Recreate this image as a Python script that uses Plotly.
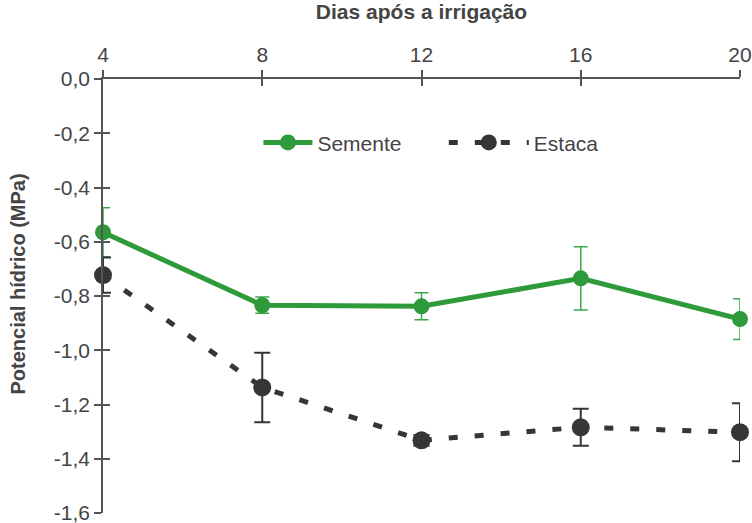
import plotly.graph_objects as go

dias = [4, 8, 12, 16, 20]

semente = [-0.565, -0.834, -0.838, -0.735, -0.885]
semente_err = [0.09, 0.03, 0.05, 0.117, 0.075]

estaca = [-0.723, -1.137, -1.332, -1.284, -1.302]
estaca_err = [0.065, 0.128, 0.02, 0.068, 0.107]

y_ticks = [0, -0.2, -0.4, -0.6, -0.8, -1.0, -1.2, -1.4, -1.6]
# hyphen-minus and decimal comma as in the original figure
y_labels = [("-" if v < 0 else "") + f"{abs(v):.1f}".replace(".", ",") for v in y_ticks]

AXIS = "#555555"
TEXT = "#444444"

fig = go.Figure()

fig.add_trace(go.Scatter(
    x=dias, y=semente, name="Semente", mode="lines+markers",
    line=dict(color="#2e9a3a", width=5),
    marker=dict(color="#2e9a3a", size=16),
    error_y=dict(type="data", array=semente_err, color="#3aa84a", thickness=1.5, width=7),
    cliponaxis=False, legend="legend",
))

fig.add_trace(go.Scatter(
    x=dias, y=estaca, name="Estaca", mode="lines+markers",
    line=dict(color="#363636", width=5, dash="9px,17px"),
    marker=dict(color="#363636", size=18),
    error_y=dict(type="data", array=estaca_err, color="#363636", thickness=2, width=8),
    cliponaxis=False, legend="legend2",
))

# empty trace so the overlaid axes (inner half of the crossing ticks) get drawn
fig.add_trace(go.Scatter(x=[None], y=[None], xaxis="x2", yaxis="y2",
                         showlegend=False, hoverinfo="skip"))

fig.update_layout(
    width=752, height=523,
    margin=dict(l=103, r=12, t=79, b=10),
    plot_bgcolor="white",
    paper_bgcolor="white",
    font=dict(family="Liberation Sans, Arial, sans-serif", color=TEXT, size=21),
    legend=dict(
        orientation="h", x=0.244, y=0.853, xanchor="left", yanchor="middle",
        font=dict(size=21, color=TEXT), bgcolor="rgba(0,0,0,0)", itemwidth=49,
    ),
    legend2=dict(
        orientation="h", x=0.535, y=0.853, xanchor="left", yanchor="middle",
        font=dict(size=21, color=TEXT), bgcolor="rgba(0,0,0,0)", itemwidth=80,
    ),
    xaxis=dict(
        side="top", range=[4, 20], tickvals=dias,
        showline=True, linecolor=AXIS, linewidth=1.5,
        ticks="outside", ticklen=7, tickcolor=AXIS, tickwidth=1.5,
        showgrid=False, zeroline=False, automargin=False, ticklabeloverflow="allow",
        title=dict(text="<b>Dias após a irrigação</b>", font=dict(size=21, color=TEXT), standoff=17),
    ),
    yaxis=dict(
        range=[-1.6, 0], tickvals=y_ticks, ticktext=y_labels,
        showline=True, linecolor=AXIS, linewidth=1.5,
        ticks="outside", ticklen=7, tickcolor=AXIS, tickwidth=1.5,
        showgrid=False, zeroline=False, automargin=False, ticklabeloverflow="allow",
    ),
    xaxis2=dict(
        overlaying="x", side="top", range=[4, 20], tickvals=dias,
        ticks="inside", ticklen=7, tickcolor=AXIS, tickwidth=1.5,
        showticklabels=False, showgrid=False, zeroline=False, showline=False,
    ),
    yaxis2=dict(
        overlaying="y", side="left", range=[-1.6, 0], tickvals=y_ticks,
        ticks="inside", ticklen=7, tickcolor=AXIS, tickwidth=1.5,
        showticklabels=False, showgrid=False, zeroline=False, showline=False,
    ),
)

# y title as an annotation: in the original it sits a little above the axis centre
fig.add_annotation(
    text="<b>Potencial hídrico (MPa)</b>", textangle=-90,
    xref="paper", yref="paper", x=-0.134, y=0.528,
    xanchor="center", yanchor="middle", showarrow=False,
    font=dict(size=20, color=TEXT),
)

# drop the default 8px page margin so the figure fills the window exactly
fig.write_html(
    "out.html",
    config={"displayModeBar": False},
    post_script="document.body.style.margin='0';document.body.style.overflow='hidden';",
)
